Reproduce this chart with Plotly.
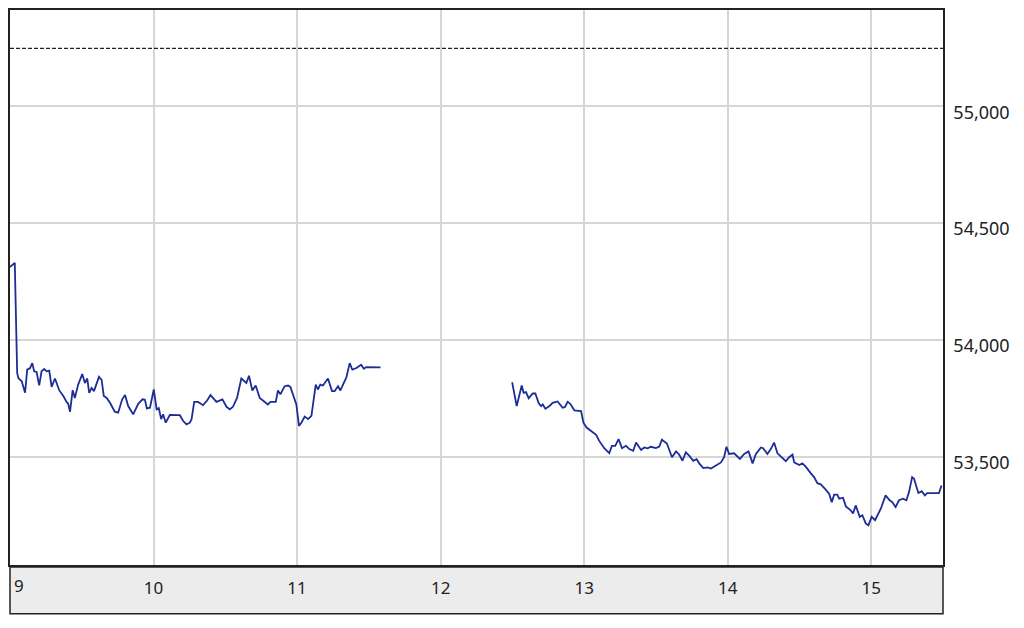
import plotly.graph_objects as go

# Minutes after 09:00 and index level, morning session
am_minutes = [0, 2, 3, 3.5, 4.9, 6.3, 7.2, 8.4, 9.3, 10.1, 11.1, 12.2, 13.2, 14.3, 15.3, 16.4,
              17.4, 18.8, 20.6, 22.3, 23.7, 24.3, 25.1, 26.2, 27.1, 28.5, 30.2, 31.3, 32.3,
              33.1, 34.1, 35.1, 37.2, 38.3, 39.2, 40.4, 41.8, 43.8, 45.2, 46.9, 48.1, 49.4,
              51.5, 53.6, 55.4, 56.4, 57.2, 58.5, 60.1, 61.3, 62.2, 63.2, 64.0, 65.1, 66.8,
              68.2, 71.0, 72.4, 73.8, 75.2, 75.9, 77.0, 78.6, 80.7, 82.4, 83.8, 84.9, 86.3,
              88.8, 90.5, 91.9, 93.2, 94.9, 96.7, 98.8, 99.9, 101.3, 102.7, 104.4, 106.5,
              107.8, 108.9, 111.1, 112.0, 113.0, 114.8, 116.2, 117.2, 118.6, 119.7, 120.8,
              121.8, 123.2, 124.6, 126.0, 127.8, 128.7, 129.7, 130.8, 132.9, 134.6, 135.7,
              137.1, 138.1, 140.6, 142.0, 143.1, 144.8, 146.8, 147.9, 148.9, 154.9]
am_values = [54312, 54330, 53859, 53837, 53823, 53774, 53873, 53880, 53901, 53866, 53863, 53806,
             53866, 53876, 53866, 53869, 53799, 53835, 53784, 53760, 53734, 53728, 53693, 53785,
             53752, 53809, 53854, 53816, 53835, 53774, 53795, 53781, 53842, 53829, 53760, 53752,
             53731, 53693, 53689, 53746, 53764, 53717, 53682, 53727, 53746, 53744, 53707, 53710,
             53788, 53703, 53708, 53661, 53682, 53646, 53679, 53679, 53678, 53653, 53639, 53646,
             53661, 53735, 53735, 53721, 53741, 53764, 53752, 53735, 53746, 53714, 53703, 53714,
             53752, 53835, 53816, 53847, 53784, 53805, 53752, 53735, 53724, 53735, 53735, 53784,
             53767, 53802, 53805, 53799, 53752, 53724, 53632, 53646, 53672, 53661, 53675, 53809,
             53788, 53809, 53805, 53835, 53781, 53781, 53802, 53784, 53840, 53901, 53873, 53880,
             53894, 53877, 53884, 53883]

# Afternoon session
pm_minutes = [209.9, 211.8, 213.9, 214.7, 215.7, 216.8, 218.5, 219.6, 221.0, 222.0, 222.7, 223.8,
              225.5, 226.8, 228.9, 231.0, 232.0, 233.1, 234.2, 235.9, 238.7, 239.7, 241.0, 242.9,
              245.0, 246.3, 248.4, 250.5, 251.6, 253.0, 254.4, 255.8, 257.5, 258.9, 260.5, 261.7,
              263.8, 265.1, 266.5, 267.9, 270.0, 271.4, 272.5, 274.6, 276.7, 278.4, 279.7, 281.1,
              282.5, 283.9, 285.6, 287.0, 288.1, 289.8, 291.6, 293.0, 295.1, 297.2, 298.5, 299.5,
              300.6, 302.7, 305.1, 306.9, 308.7, 310.4, 311.8, 313.9, 314.8, 316.6, 318.0, 319.4,
              320.8, 322.6, 324.3, 325.7, 327.1, 327.8, 329.9, 331.2, 332.6, 334.7, 336.1, 337.5,
              338.9, 340.7, 342.4, 343.5, 344.5, 345.8, 346.6, 348.2, 349.4, 351.4, 352.4, 353.5,
              355.2, 356.3, 357.7, 358.8, 360.2, 361.6, 364.0, 366.0, 367.7, 368.8, 370.2, 371.6,
              373.3, 374.7, 375.8, 377.1, 377.9, 379.7, 381.1, 382.4, 383.4, 388.3, 389.4]
pm_values = [53819, 53717, 53805, 53774, 53777, 53750, 53771, 53771, 53729, 53717, 53724, 53706,
             53717, 53731, 53737, 53710, 53713, 53735, 53727, 53699, 53696, 53646, 53625, 53611,
             53594, 53568, 53537, 53516, 53547, 53547, 53576, 53537, 53547, 53533, 53526, 53561,
             53529, 53540, 53536, 53543, 53537, 53544, 53573, 53557, 53498, 53523, 53510, 53483,
             53519, 53505, 53483, 53490, 53472, 53452, 53455, 53450, 53462, 53476, 53498, 53543,
             53512, 53515, 53491, 53512, 53523, 53472, 53512, 53540, 53537, 53512, 53533, 53561,
             53515, 53498, 53481, 53498, 53509, 53476, 53465, 53472, 53458, 53430, 53413, 53387,
             53382, 53363, 53342, 53306, 53338, 53338, 53321, 53325, 53288, 53271, 53257, 53292,
             53243, 53250, 53215, 53207, 53243, 53229, 53278, 53335, 53314, 53306, 53285, 53314,
             53321, 53314, 53349, 53413, 53406, 53345, 53353, 53335, 53345, 53345, 53377]

prev_close = 55248
x_ticks = [10, 11, 12, 13, 14, 15]
y_ticks = [53500, 54000, 54500, 55000]
x_range = [9, 15.5]
y_range = [53037, 55412]

line_color = "#1c2e96"
font_family = "Noto Sans, Open Sans, sans-serif"

fig = go.Figure()
for mins, vals in ((am_minutes, am_values), (pm_minutes, pm_values)):
    fig.add_trace(go.Scatter(
        x=[9 + m / 60 for m in mins], y=vals, mode="lines",
        line=dict(color=line_color, width=1.8), showlegend=False, hoverinfo="skip"))

# previous close dashed line
fig.add_shape(type="line", xref="paper", x0=0, x1=1, yref="y", y0=prev_close, y1=prev_close,
              line=dict(color="#222222", width=1.2, dash="4px,2px"), layer="above")

# grey x-axis band
fig.add_shape(type="rect", xref="paper", x0=0, x1=1, yref="paper", y0=-0.0036, y1=-0.0878,
              fillcolor="#ececec", line=dict(color="#222222", width=1.5), layer="below")

fig.add_annotation(x=9, y=0, xref="x", yref="paper", text="9", showarrow=False,
                   xanchor="left", yanchor="top", xshift=2, yshift=-7,
                   font=dict(family=font_family, size=17, color="#222222"))

fig.update_layout(
    width=1016, height=620,
    margin=dict(l=2, r=81, t=0, b=63),
    paper_bgcolor="white", plot_bgcolor="white",
    font=dict(family=font_family, size=17, color="#222222"),
    xaxis=dict(range=x_range, tickvals=x_ticks, ticktext=[str(v) for v in x_ticks],
               showgrid=True, gridcolor="#d6d6d6", gridwidth=1.5, zeroline=False,
               showline=True, linecolor="#222222", linewidth=1.5, mirror=True,
               ticks="", ticklabelstandoff=7, fixedrange=True),
    yaxis=dict(range=y_range, tickvals=y_ticks, tickformat=",", side="right",
               showgrid=True, gridcolor="#d6d6d6", gridwidth=1.5, zeroline=False,
               showline=True, linecolor="#222222", linewidth=1.5, mirror=True,
               ticks="", ticklabelstandoff=5, ticklabelshift=6, fixedrange=True,
               tickfont=dict(size=18)),
)

fig.write_html("out.html")
